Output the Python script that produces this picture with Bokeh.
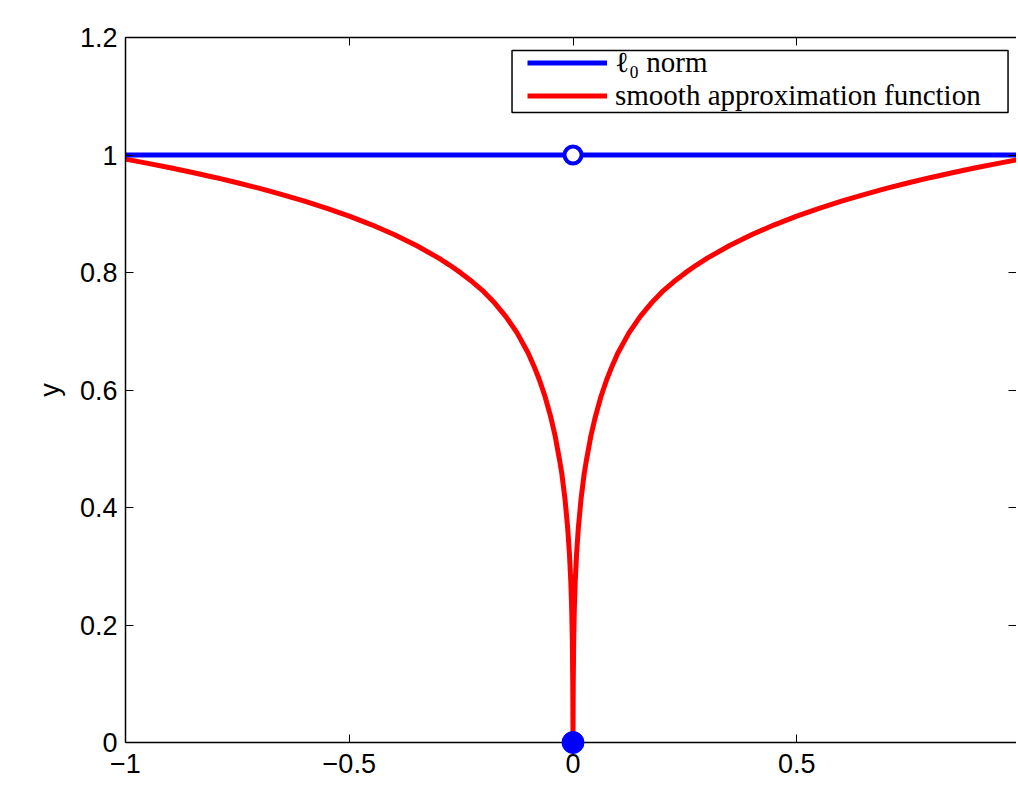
from bokeh.plotting import figure
from bokeh.models import (FixedTicker, LinearAxis, Legend, LegendItem,
                          BoxAnnotation, Label, Range1d)
from bokeh.embed import file_html
from bokeh.resources import INLINE

# ---- data ----
x_tick_values = [-1, -0.5, 0, 0.5, 1]
x_tick_labels = ["\u22121", "\u22120.5", "0", "0.5", "1"]
y_tick_values = [0, 0.2, 0.4, 0.6, 0.8, 1.0, 1.2]
y_tick_labels = ["0", "0.2", "0.4", "0.6", "0.8", "1", "1.2"]

l0_x = [-1.0, 1.0]
l0_y = [1.0, 1.0]
l0_open_x = [0.0]
l0_open_y = [1.0]
l0_dot_x = [0.0]
l0_dot_y = [0.0]

smooth_x = [-1.00, -0.95, -0.90, -0.85, -0.80, -0.75, -0.70, -0.65, -0.60,
            -0.55, -0.50, -0.45, -0.40, -0.35, -0.30, -0.275, -0.25, -0.225,
            -0.20, -0.175, -0.15, -0.125, -0.10, -0.0875, -0.075, -0.0625,
            -0.05, -0.04, -0.03, -0.025, -0.018, -0.012, -0.008, -0.005,
            -0.003, -0.0015, -0.0005, 0.0,
            0.0005, 0.0015, 0.003, 0.005, 0.008, 0.012, 0.018, 0.025, 0.03,
            0.04, 0.05, 0.0625, 0.075, 0.0875, 0.10, 0.125, 0.15, 0.175,
            0.20, 0.225, 0.25, 0.275, 0.30, 0.35, 0.40, 0.45, 0.50, 0.55,
            0.60, 0.65, 0.70, 0.75, 0.80, 0.85, 0.90, 0.95, 1.00]
smooth_y = [0.993, 0.9858, 0.9782, 0.9703, 0.9618, 0.9527, 0.9431, 0.9327,
            0.9215, 0.9093, 0.896, 0.8812, 0.8647, 0.846, 0.8244, 0.8123,
            0.7989, 0.7842, 0.7677, 0.748, 0.7249, 0.6972, 0.6626, 0.641,
            0.617, 0.589, 0.5546, 0.5222, 0.4805, 0.4576, 0.415, 0.366,
            0.3215, 0.2745, 0.2285, 0.173, 0.096, 0.0,
            0.096, 0.173, 0.2285, 0.2745, 0.3215, 0.366, 0.415, 0.4576,
            0.4805, 0.5222, 0.5546, 0.589, 0.617, 0.641, 0.6626, 0.6972,
            0.7249, 0.748, 0.7677, 0.7842, 0.7989, 0.8123, 0.8244, 0.846,
            0.8647, 0.8812, 0.896, 0.9093, 0.9215, 0.9327, 0.9431, 0.9527,
            0.9618, 0.9703, 0.9782, 0.9858, 0.993]

legend_labels = ["\u2113\u2080 norm", "smooth approximation function"]
x_label = "x"
y_label = "y"

BLUE = "#0000ff"
RED = "#ff0000"
SANS = "Liberation Sans"
SERIF = "Liberation Serif"

p = figure(width=1016, height=796,
           x_range=Range1d(-1, 0.991), y_range=Range1d(0, 1.2),
           output_backend="svg", toolbar_location=None,
           min_border_left=125, min_border_right=0,
           min_border_top=37, min_border_bottom=54)
p.grid.visible = False
p.outline_line_color = None
p.background_fill_color = "white"
p.border_fill_color = "white"


def style_axis(ax):
    ax.axis_line_color = "black"
    ax.axis_line_width = 1.5
    ax.major_tick_in = 8
    ax.major_tick_out = 0
    ax.minor_tick_in = 0
    ax.minor_tick_out = 0
    ax.major_tick_line_color = "black"
    ax.major_tick_line_width = 1
    ax.major_label_text_font = SANS
    ax.major_label_text_color = "black"
    ax.major_label_text_font_size = "27px"


xa = p.xaxis[0]
xa.ticker = FixedTicker(ticks=x_tick_values)
xa.major_label_overrides = {v: s for v, s in zip(x_tick_values, x_tick_labels)}
style_axis(xa)
xa.major_label_standoff = 11

ya = p.yaxis[0]
ya.ticker = FixedTicker(ticks=y_tick_values)
ya.major_label_overrides = {v: s for v, s in zip(y_tick_values, y_tick_labels)}
style_axis(ya)
ya.major_label_standoff = 8
ya.axis_label = y_label
ya.axis_label_text_font = SANS
ya.axis_label_text_font_size = "27px"
ya.axis_label_text_font_style = "normal"
ya.axis_label_text_color = "black"
ya.axis_label_standoff = 12

top = LinearAxis(ticker=FixedTicker(ticks=x_tick_values))
style_axis(top)
top.major_label_overrides = {v: "" for v in x_tick_values}
top.major_label_standoff = 0
p.add_layout(top, "above")

right = LinearAxis(ticker=FixedTicker(ticks=y_tick_values))
style_axis(right)
right.major_label_overrides = {v: "" for v in y_tick_values}
right.major_label_standoff = 0
right.axis_line_alpha = 0
p.add_layout(right, "right")

r_red = p.line(smooth_x, smooth_y, line_color=RED, line_width=5)
r_blue = p.line(l0_x, l0_y, line_color=BLUE, line_width=5)
p.scatter(l0_open_x, l0_open_y, size=17, fill_color="white",
          line_color=BLUE, line_width=4, level="overlay")
p.scatter(l0_dot_x, l0_dot_y, size=22, fill_color=BLUE,
          line_color=BLUE, line_width=1, level="overlay")

box = BoxAnnotation(left=-0.1363, right=0.9721, bottom=1.0723, top=1.1779,
                    fill_color="white", fill_alpha=1.0,
                    line_color="black", line_width=1.5, line_alpha=1.0)
p.add_layout(box)

legend = Legend(items=[LegendItem(label=legend_labels[0], renderers=[r_blue]),
                       LegendItem(label=legend_labels[1], renderers=[r_red])],
                location=(402, 630), padding=0, spacing=0, margin=0,
                glyph_width=80, glyph_height=27, label_height=27,
                label_standoff=8, border_line_alpha=0,
                background_fill_alpha=0,
                label_text_font=SERIF, label_text_font_size="29px",
                label_text_color="black")
p.add_layout(legend)

p.add_layout(Label(x=0, y=-0.0715, text=x_label, text_align="center",
                   text_baseline="top", text_font=SANS,
                   text_font_size="27px", text_color="black"))

open("out.html", "w").write(file_html(p, INLINE))
